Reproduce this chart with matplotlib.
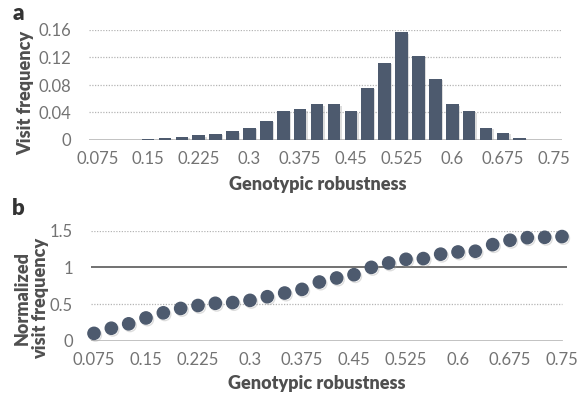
import matplotlib
matplotlib.use("Agg")
import matplotlib.pyplot as plt
import matplotlib.patheffects as pe
import numpy as np

# Genotypic robustness bins (category axis)
robustness = [0.075, 0.1, 0.125, 0.15, 0.175, 0.2, 0.225, 0.25, 0.275, 0.3,
              0.325, 0.35, 0.375, 0.4, 0.425, 0.45, 0.475, 0.5, 0.525, 0.55,
              0.575, 0.6, 0.625, 0.65, 0.675, 0.7, 0.725, 0.75]
tick_labels = ["0.075", "0.15", "0.225", "0.3", "0.375", "0.45",
               "0.525", "0.6", "0.675", "0.75"]

# Panel a: visit frequency per robustness bin
visit_frequency = [0, 0, 0, 0.002, 0.0034, 0.005, 0.007, 0.009, 0.013, 0.018,
                   0.028, 0.042, 0.045, 0.052, 0.052, 0.042, 0.076, 0.1125,
                   0.157, 0.122, 0.089, 0.052, 0.042, 0.018, 0.0107, 0.0034,
                   0, 0]

# Panel b: normalized visit frequency
normalized_frequency = [0.10, 0.17, 0.23, 0.31, 0.38, 0.44, 0.48, 0.51, 0.52,
                        0.55, 0.60, 0.65, 0.70, 0.80, 0.855, 0.90, 1.00, 1.06,
                        1.11, 1.12, 1.18, 1.21, 1.22, 1.31, 1.37, 1.405, 1.41,
                        1.42]

W, H = 578, 397
FONT = "Lato"
MARK = "#4d5a6e"
TICK_C = "#737373"
LABEL_C = "#4f4f4f"

fig = plt.figure(figsize=(W / 100, H / 100), dpi=100)


def frac_box(x0, x1, ytop, ybot):
    return [x0 / W, 1 - ybot / H, (x1 - x0) / W, (ybot - ytop) / H]


def px(x, y):
    return x / W, 1 - y / H


def style_ticks(ax):
    ax.tick_params(axis="y", length=0, pad=13, labelsize=12, labelcolor=TICK_C)
    ax.tick_params(axis="x", length=0, pad=8, labelsize=12, labelcolor=TICK_C)
    for lab in ax.get_xticklabels() + ax.get_yticklabels():
        lab.set_fontfamily(FONT)
        lab.set_fontweight("normal")
    for s in ax.spines.values():
        s.set_visible(False)


label_kw = dict(fontfamily=FONT, fontweight="heavy", fontsize=13,
                color=LABEL_C, ha="center", va="center")

n = len(robustness)
pos = np.arange(n)
tick_pos = pos[::3]

shadow_patch = [pe.SimplePatchShadow(offset=(1.0, -1.2), shadow_rgbFace="#a0a0a0", alpha=0.35),
                pe.Normal()]

# ---------------- panel a ----------------
axa = fig.add_axes(frac_box(89, 562, 30, 140))
axa.bar(pos, visit_frequency, width=0.75, color=MARK, zorder=3,
        path_effects=shadow_patch)
axa.set_xlim(-0.5, n - 0.5)
axa.set_ylim(0, 0.16)
for yv in [0.04, 0.08, 0.12, 0.16]:
    axa.axhline(yv, color="#b5b5b5", lw=0.9, ls=(0, (1, 1.2)), zorder=1)
axa.axhline(0, color="#bdbdbd", lw=1.3, zorder=2)
axa.set_yticks([0, 0.04, 0.08, 0.12, 0.16])
axa.set_yticklabels(["0", "0.04", "0.08", "0.12", "0.16"])
axa.set_xticks(tick_pos)
axa.set_xticklabels(tick_labels)
style_ticks(axa)
fig.text(*px(318, 184), "Genotypic robustness", **label_kw)
fig.text(*px(26, 93), "Visit frequency", rotation=90, **label_kw)
fig.text(*px(13, 20), "a", fontfamily=FONT, fontweight="heavy",
         fontsize=16, color="#333333")

# ---------------- panel b ----------------
step = (562 - 94) / (n - 1)
x0 = -(94 - 91) / step
x1 = (567 - 94) / step
axb = fig.add_axes(frac_box(91, 567, 230.7, 340.7))
axb.set_xlim(x0, x1)
axb.set_ylim(0, 1.5)
for yv in [0.5, 1.5]:
    axb.plot([x0, n - 1], [yv, yv], color="#b5b5b5", lw=0.9,
             ls=(0, (1, 1.2)), zorder=1)
axb.plot([x0, n - 1], [0, 0], color="#bdbdbd", lw=1.3, zorder=2)
axb.plot([x0, x1], [1, 1], color="#666666", lw=1.3, zorder=2)
axb.plot(pos, normalized_frequency, ls="none", marker="o", ms=8.8,
         color=MARK, mec=MARK, zorder=3, clip_on=False,
         path_effects=[pe.SimpleLineShadow(offset=(1.0, -1.2), shadow_color="#a0a0a0",
                                           alpha=0.35), pe.Normal()])
axb.set_yticks([0, 0.5, 1, 1.5])
axb.set_yticklabels(["0", "0.5", "1", "1.5"])
axb.set_xticks(tick_pos)
axb.set_xticklabels(tick_labels)
style_ticks(axb)
fig.text(*px(317, 383), "Genotypic robustness", **label_kw)
fig.text(*px(31, 298), "Normalized\nvisit frequency", rotation=90,
         multialignment="center", linespacing=1.1, **label_kw)
fig.text(*px(12, 215), "b", fontfamily=FONT, fontweight="heavy",
         fontsize=16, color="#333333")

fig.savefig("out.png", dpi=100)
